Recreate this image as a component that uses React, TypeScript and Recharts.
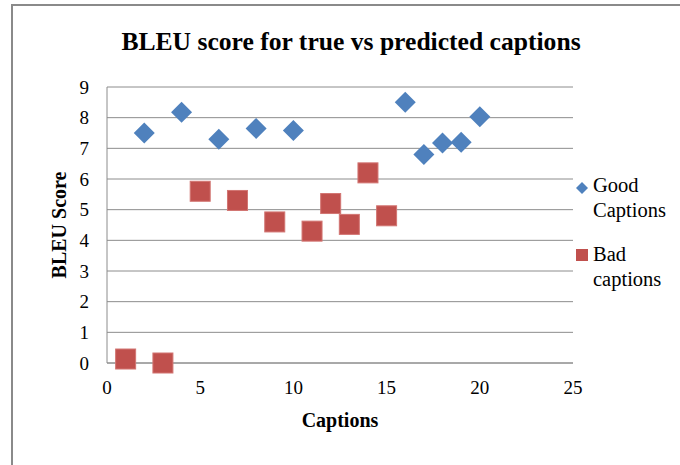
import {
  ScatterChart,
  Scatter,
  XAxis,
  YAxis,
  CartesianGrid,
  Legend,
} from "recharts";

const goodX = [2, 4, 6, 8, 10, 16, 17, 18, 19, 20];
const goodY = [7.5, 8.18, 7.3, 7.65, 7.58, 8.5, 6.8, 7.17, 7.2, 8.03];
const badX = [1, 3, 5, 7, 9, 11, 12, 13, 14, 15];
const badY = [0.13, 0, 5.6, 5.3, 4.6, 4.3, 5.2, 4.52, 6.2, 4.8];
const xTicks = [0, 5, 10, 15, 20, 25];
const yTicks = [0, 1, 2, 3, 4, 5, 6, 7, 8, 9];

const good = goodX.map((x, i) => ({ x, y: goodY[i] }));
const bad = badX.map((x, i) => ({ x, y: badY[i] }));

const FONT = '"Liberation Serif", "Times New Roman", serif';
const BLUE = "#4F81BD";
const RED = "#C0504D";
const GRID = "#8c8c8c";

function Diamond(props: any) {
  const { cx, cy } = props;
  const r = 10.5;
  return (
    <polygon
      points={`${cx},${cy - r} ${cx + r},${cy} ${cx},${cy + r} ${cx - r},${cy}`}
      fill={BLUE}
    />
  );
}

function Square(props: any) {
  const { cx, cy } = props;
  return (
    <rect x={cx - 10} y={cy - 10} width={20} height={20} fill={RED} stroke="#d27572" strokeWidth={1} />
  );
}

function LegendBox() {
  const text = { fontFamily: FONT, fontSize: 20.5, lineHeight: "25px", color: "#000" };
  return (
    <div style={{ width: 104 }}>
      <div style={{ display: "flex", alignItems: "flex-start" }}>
        <svg width={19} height={25} style={{ flexShrink: 0 }}>
          <polygon points="8,9 14,15 8,21 2,15" fill={BLUE} />
        </svg>
        <div style={text}>
          Good
          <br />
          Captions
        </div>
      </div>
      <div style={{ display: "flex", alignItems: "flex-start", marginTop: 19 }}>
        <svg width={19} height={25} style={{ flexShrink: 0 }}>
          <rect x={2} y={7} width={12} height={12} fill={RED} />
        </svg>
        <div style={text}>
          Bad
          <br />
          captions
        </div>
      </div>
    </div>
  );
}

export default function App() {
  return (
    <div style={{ position: "absolute", left: 0, top: 0, width: 680, height: 465, background: "#fff", overflow: "hidden" }}>
      <div
        style={{
          position: "absolute",
          left: 11,
          top: 4,
          width: 690,
          height: 459,
          borderLeft: "2px solid #8a8a8a",
          borderTop: "2px solid #8a8a8a",
          borderBottom: "1px solid #d9d9d9",
        }}
      />
      <div
        style={{
          position: "absolute",
          left: 0,
          top: 29,
          width: 702,
          textAlign: "center",
          fontFamily: FONT,
          fontWeight: "bold",
          fontSize: 25.6,
          lineHeight: "26px",
          color: "#000",
        }}
      >
        BLEU score for true vs predicted captions
      </div>
      <div style={{ position: "absolute", left: 0, top: 0 }}>
        <ScatterChart width={680} height={465} margin={{ top: 87, right: 107, bottom: 0, left: 0 }}>
          <CartesianGrid vertical={false} stroke={GRID} strokeWidth={1} />
          <XAxis
            type="number"
            dataKey="x"
            domain={[0, 25]}
            ticks={xTicks}
            height={102}
            stroke={GRID}
            tickLine={false}
            tickSize={0}
            tickMargin={18}
            tick={{ fill: "#000", fontSize: 19, fontFamily: FONT }}
            label={{
              value: "Captions",
              position: "insideBottom",
              offset: 38,
              fill: "#000",
              fontSize: 20,
              fontWeight: "bold",
              fontFamily: FONT,
            }}
          />
          <YAxis
            type="number"
            dataKey="y"
            domain={[0, 9]}
            ticks={yTicks}
            interval={0}
            width={107}
            stroke={GRID}
            tickLine={false}
            tickSize={0}
            tickMargin={18}
            tick={{ fill: "#000", fontSize: 19, fontFamily: FONT }}
            label={{
              content: (p: any) => {
                const vb = p.viewBox || {};
                const x = 66;
                const y = (vb.y || 87) + (vb.height || 276) / 2;
                return (
                  <text
                    x={x}
                    y={y}
                    transform={`rotate(-90 ${x} ${y})`}
                    textAnchor="middle"
                    fill="#000"
                    fontSize={20}
                    fontWeight="bold"
                    fontFamily={FONT}
                  >
                    BLEU Score
                  </text>
                );
              },
            }}
          />
          <Legend
            layout="vertical"
            align="center"
            verticalAlign="middle"
            content={() => <LegendBox />}
            wrapperStyle={{ position: "absolute", left: 574, top: 173, width: 106 }}
          />
          <Scatter name="Good Captions" data={good} shape={<Diamond />} isAnimationActive={false} />
          <Scatter name="Bad captions" data={bad} shape={<Square />} isAnimationActive={false} />
        </ScatterChart>
      </div>
    </div>
  );
}
